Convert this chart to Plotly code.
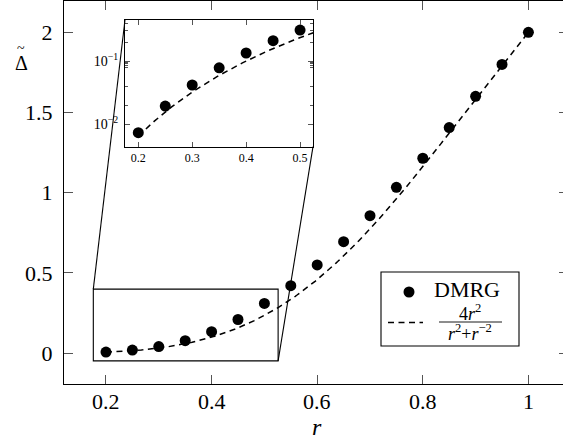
import numpy as np
import plotly.graph_objects as go

# ---- data ----
r_vals = [0.20, 0.25, 0.30, 0.35, 0.40, 0.45, 0.50, 0.55, 0.60, 0.65,
          0.70, 0.75, 0.80, 0.85, 0.90, 0.95, 1.00]
dmrg_vals = [0.0073, 0.0193, 0.0416, 0.078, 0.134, 0.21, 0.31, 0.421, 0.550,
             0.695, 0.857, 1.034, 1.215, 1.406, 1.601, 1.80, 2.00]

x_ticks = [0.2, 0.4, 0.6, 0.8, 1.0]
x_ticktext = ["0.2", "0.4", "0.6", "0.8", "1"]
y_ticks = [0, 0.5, 1, 1.5, 2]
y_ticktext = ["0", "0.5", "1", "1.5", "2"]
inset_x_ticks = [0.2, 0.3, 0.4, 0.5]
inset_x_ticktext = ["0.2", "0.3", "0.4", "0.5"]
inset_y_ticks = [0.01, 0.1]
inset_y_ticktext = ["10<sup>−2</sup>", "10<sup>−1</sup>"]
inset_y_minor = [0.02, 0.04, 0.08, 0.085, 0.09, 0.095, 0.2, 0.3, 0.4]


def model(r):
    """Analytic curve given in the legend: 4 r^2 / (r^2 + r^-2)."""
    r = np.asarray(r, dtype=float)
    return 4 * r**2 / (r**2 + r**-2)


r_curve = np.linspace(0.2, 1.0, 300)
r_curve_inset = np.linspace(0.2, 0.53, 200)

# ---- layout geometry ----
W, H = 563, 443
ML, MR, MT, MB = 64, 0, 1, 59
XR = [0.1205, 1.0655]
YR = [-0.192, 2.195]
INSET_XR = [0.1753, 0.524]
INSET_YR = [-2.36, -0.349]
INSET_DX = [0.1222, 0.499]
INSET_DY = [0.6196, 0.9504]
ZOOM_BOX = dict(x0=0.176, x1=0.526, y0=-0.048, y1=0.399)

SERIF = "Liberation Serif, Times New Roman, serif"
TICKC = "#555"


def px_x(v):
    return (v - XR[0]) / (XR[1] - XR[0])


def px_y(v):
    return (v - YR[0]) / (YR[1] - YR[0])


def pap_x(p):  # pixel -> paper
    return (p - ML) / (W - ML - MR)


def pap_y(p):
    return (H - MB - p) / (H - MB - MT)


fig = go.Figure()

dash = "6px,4.5px"

fig.add_trace(go.Scatter(x=r_curve, y=model(r_curve), mode="lines",
                         line=dict(color="black", width=1.5, dash=dash),
                         showlegend=False, xaxis="x", yaxis="y"))
fig.add_trace(go.Scatter(x=r_vals, y=dmrg_vals, mode="markers",
                         marker=dict(color="black", size=11),
                         showlegend=False, xaxis="x", yaxis="y"))
# invisible trace for the right-hand tick axis
fig.add_trace(go.Scatter(x=[r_vals[0]], y=[dmrg_vals[0]], mode="markers",
                         marker=dict(opacity=0), showlegend=False,
                         hoverinfo="skip", xaxis="x", yaxis="y3"))

# inset
r_in = [v for v in r_vals if v <= 0.5]
d_in = dmrg_vals[:len(r_in)]
fig.add_trace(go.Scatter(x=r_curve_inset, y=model(r_curve_inset), mode="lines",
                         line=dict(color="black", width=1.5, dash=dash),
                         showlegend=False, xaxis="x2", yaxis="y2"))
fig.add_trace(go.Scatter(x=r_in, y=d_in, mode="markers",
                         marker=dict(color="black", size=11),
                         showlegend=False, xaxis="x2", yaxis="y2"))

axis_font = dict(family=SERIF, size=22, color="black")
inset_font = dict(family=SERIF, size=12, color="black")

fig.update_layout(
    width=W, height=H,
    margin=dict(l=ML, r=MR, t=MT, b=MB, pad=0),
    paper_bgcolor="white", plot_bgcolor="white",
    font=dict(family=SERIF, color="black"),
    xaxis=dict(range=XR, tickvals=x_ticks, showticklabels=False,
               ticks="inside", ticklen=9, tickcolor=TICKC, tickwidth=1,
               showline=True, linecolor="black", linewidth=1.2,
               mirror="ticks", showgrid=False, zeroline=False),
    yaxis=dict(range=YR, tickvals=y_ticks, ticktext=y_ticktext,
               ticks="inside", ticklen=9, tickcolor=TICKC, tickwidth=1,
               showline=True, linecolor="black", linewidth=1.2,
               mirror=False, showgrid=False, zeroline=False,
               tickfont=axis_font, ticklabelstandoff=6),
    yaxis3=dict(range=YR, tickvals=y_ticks, overlaying="y", side="right",
                anchor="x", ticks="inside", ticklen=4, tickcolor=TICKC,
                showticklabels=False, showline=False, showgrid=False,
                zeroline=False),
    xaxis2=dict(domain=INSET_DX, anchor="y2", range=INSET_XR,
                tickvals=inset_x_ticks, ticktext=inset_x_ticktext,
                ticks="inside", ticklen=5, tickcolor=TICKC,
                showline=True, linecolor="black", linewidth=1.2,
                mirror="ticks", showgrid=False, zeroline=False,
                tickfont=inset_font),
    yaxis2=dict(domain=INSET_DY, anchor="x2", type="log", range=INSET_YR,
                tickvals=inset_y_ticks, ticktext=inset_y_ticktext,
                ticks="inside", ticklen=5, tickcolor=TICKC,
                minor=dict(tickvals=inset_y_minor, ticks="inside",
                           ticklen=3, tickcolor=TICKC),
                showline=True, linecolor="black", linewidth=1.2,
                mirror="ticks", showgrid=False, zeroline=False,
                tickfont=dict(family=SERIF, size=14, color="black"),
                ticklabelstandoff=3),
)

shapes = []
# zoom rectangle on the main axes
shapes.append(dict(type="rect", xref="x", yref="y", **ZOOM_BOX,
                   line=dict(color="black", width=1.1), layer="above"))
# connectors: inset top-left -> box top-left, inset bottom-right -> box bottom-right
shapes.append(dict(type="line", xref="paper", yref="paper",
                   x0=INSET_DX[0], y0=INSET_DY[1],
                   x1=px_x(ZOOM_BOX["x0"]), y1=px_y(ZOOM_BOX["y1"]),
                   line=dict(color="black", width=1.1)))
shapes.append(dict(type="line", xref="paper", yref="paper",
                   x0=INSET_DX[1], y0=INSET_DY[0],
                   x1=px_x(ZOOM_BOX["x1"]), y1=px_y(ZOOM_BOX["y0"]),
                   line=dict(color="black", width=1.1)))

# legend (drawn by hand to allow the stacked fraction)
shapes.append(dict(type="rect", xref="paper", yref="paper",
                   x0=pap_x(381), x1=pap_x(519), y0=pap_y(346), y1=pap_y(272),
                   line=dict(color="black", width=1.1), fillcolor="white",
                   layer="above"))
shapes.append(dict(type="circle", xref="paper", yref="paper",
                   xsizemode="pixel", ysizemode="pixel",
                   xanchor=pap_x(409), yanchor=pap_y(292),
                   x0=-5.5, x1=5.5, y0=-5.5, y1=5.5,
                   fillcolor="black", line=dict(color="black", width=0)))
shapes.append(dict(type="line", xref="paper", yref="paper",
                   x0=pap_x(388), x1=pap_x(423), y0=pap_y(322.5), y1=pap_y(322.5),
                   line=dict(color="black", width=1.5, dash=dash)))
shapes.append(dict(type="line", xref="paper", yref="paper",
                   x0=pap_x(439), x1=pap_x(502), y0=pap_y(322), y1=pap_y(322),
                   line=dict(color="black", width=0.9)))

annotations = [
    dict(text="DMRG", xref="paper", yref="paper", x=pap_x(432), y=pap_y(289),
         xanchor="left", yanchor="middle", showarrow=False,
         font=dict(family=SERIF, size=22, color="black")),
    dict(text="4<i>r</i><sup>2</sup>", xref="paper", yref="paper",
         x=pap_x(470), y=pap_y(312), xanchor="center", yanchor="middle",
         showarrow=False, font=dict(family=SERIF, size=18, color="black")),
    dict(text="<i>r</i><sup>2</sup>+<i>r</i><sup>−2</sup>", xref="paper",
         yref="paper", x=pap_x(470), y=pap_y(332), xanchor="center",
         yanchor="middle", showarrow=False,
         font=dict(family=SERIF, size=18, color="black")),
    dict(text="<i>r</i>", xref="paper", yref="paper", x=pap_x(317),
         y=pap_y(427), xanchor="center", yanchor="middle", showarrow=False,
         font=dict(family=SERIF, size=24, color="black")),
    dict(text="\u0394", xref="paper", yref="paper", x=pap_x(21),
         y=pap_y(63), xanchor="center", yanchor="middle", showarrow=False,
         font=dict(family=SERIF, size=20, color="black")),
    dict(text="~", xref="paper", yref="paper", x=pap_x(21),
         y=pap_y(49), xanchor="center", yanchor="middle", showarrow=False,
         font=dict(family=SERIF, size=14, color="black")),
]
# main x tick labels (placed as text at the tick positions)
for tv, tt in zip(x_ticks, x_ticktext):
    annotations.append(dict(text=tt, xref="x", yref="paper", x=tv,
                            y=pap_y(401.5), xanchor="center", yanchor="middle",
                            showarrow=False, font=axis_font))

fig.update_layout(shapes=shapes, annotations=annotations)
fig.write_html(
    "out.html",
    config={"displayModeBar": False},
    post_script="document.body.style.margin='0';document.body.style.overflow='hidden';",
)
